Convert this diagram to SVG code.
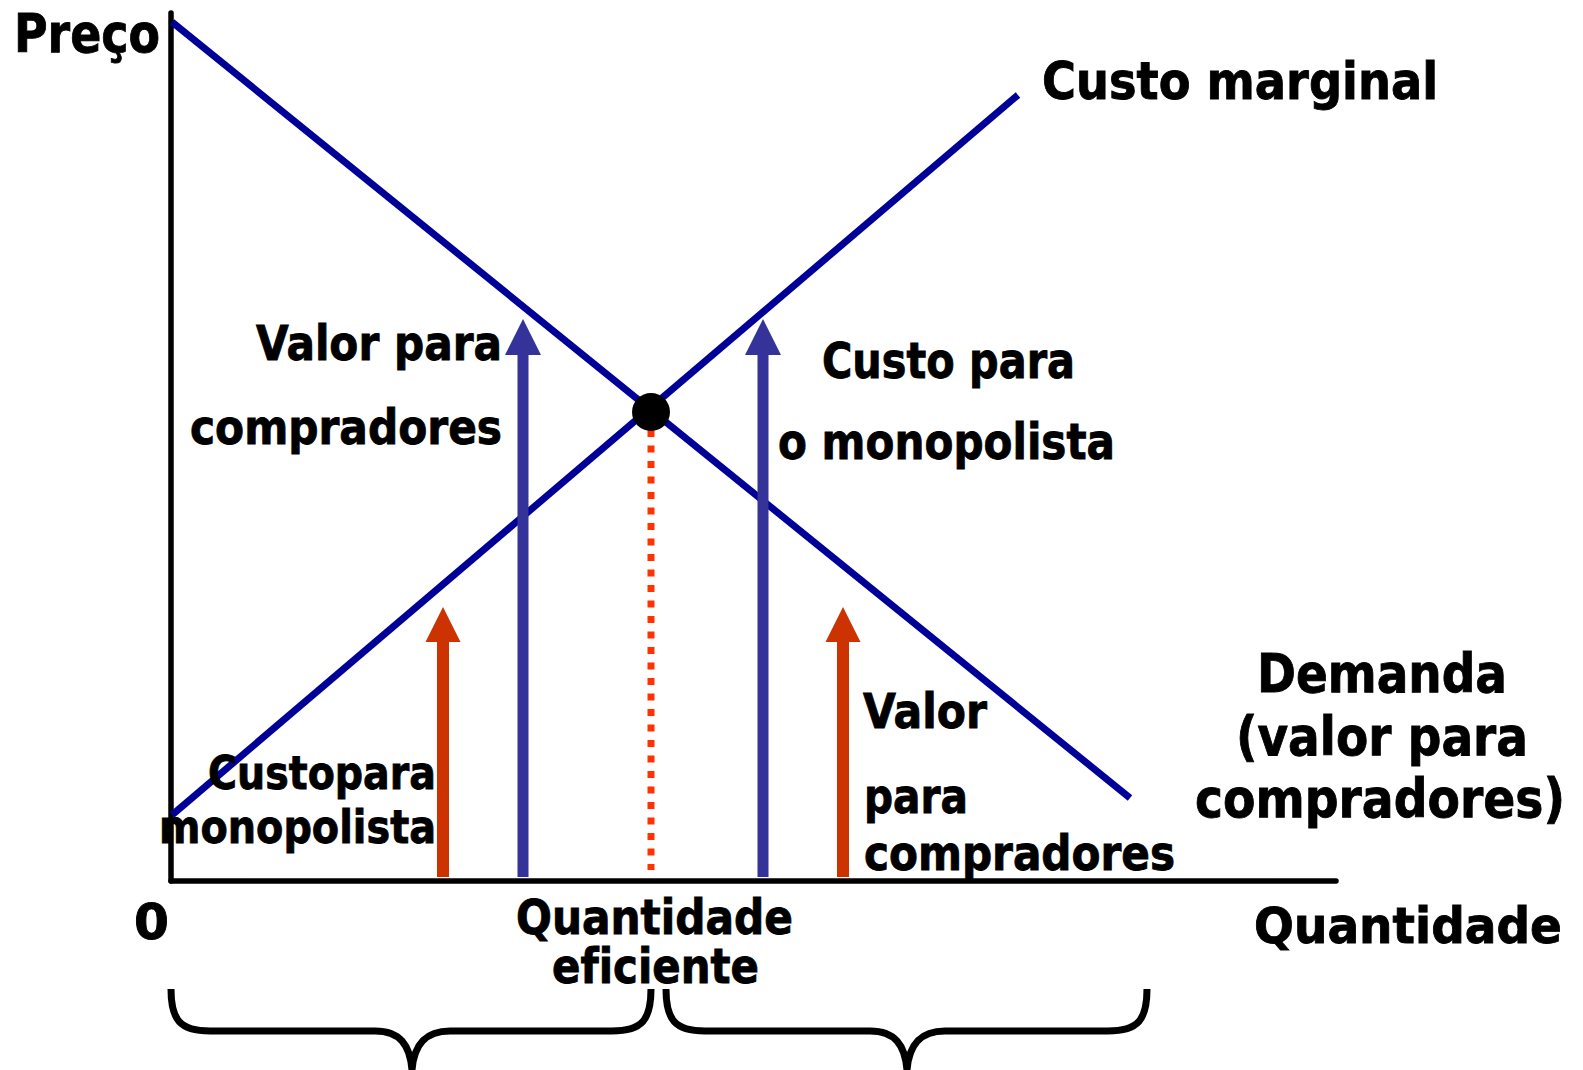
<svg xmlns="http://www.w3.org/2000/svg" width="1583" height="1070" viewBox="0 0 1583 1070">
<style>
text{font-family:"DejaVu Sans","Liberation Sans",sans-serif;font-weight:bold;fill:#000;stroke:#000;stroke-width:0.9;font-variant-ligatures:none}
.axis{stroke:#000;stroke-width:5.5;fill:none;stroke-linecap:round}
.curve{stroke:#000099;stroke-width:7;fill:none}
.brace{stroke:#000;stroke-width:7;fill:none}
.blue{stroke:#333399;stroke-width:11}
.red{stroke:#CC3300;stroke-width:12}
.dot{stroke:#FF3300;stroke-width:7;stroke-dasharray:7 8.5}
</style>
<defs>
<marker id="ah-blue" markerUnits="userSpaceOnUse" markerWidth="36" markerHeight="36" viewBox="0 0 36 36" refX="0" refY="18" orient="auto"><path d="M0,0 L36,18 L0,36 Z" fill="#333399"/></marker>
<marker id="ah-red" markerUnits="userSpaceOnUse" markerWidth="36" markerHeight="36" viewBox="0 0 36 36" refX="0" refY="18" orient="auto"><path d="M0,0.5 L35,18 L0,35.5 Z" fill="#CC3300"/></marker>
</defs>
<g id="axes">
<line class="axis" x1="171" y1="13" x2="171" y2="881"/>
<line class="axis" x1="171" y1="881" x2="1336" y2="881"/>
</g>
<g id="connectors">
<line id="demand" class="curve" x1="172" y1="22" x2="1130" y2="798"/>
<line id="mc" class="curve" x1="172" y1="815" x2="1018" y2="95"/>
<line id="dotted" class="dot" x1="651" y1="430" x2="651" y2="870"/>
<line class="blue" x1="523" y1="877" x2="523" y2="355" marker-end="url(#ah-blue)"/>
<line class="blue" x1="763" y1="877" x2="763" y2="355" marker-end="url(#ah-blue)"/>
<line class="red" x1="443" y1="877" x2="443" y2="642" marker-end="url(#ah-red)"/>
<line class="red" x1="843" y1="877" x2="843" y2="642" marker-end="url(#ah-red)"/>
</g>
<g id="equilibrium"><circle cx="651" cy="412" r="19" fill="#000"/></g>
<g id="braces">
<path class="brace" d="M171,989 C171,1020 180,1031 210,1031 L375,1031 C400,1031 410,1045 412,1070 M651,989 C651,1020 642,1031 612,1031 L450,1031 C425,1031 414,1045 412,1070"/>
<path class="brace" d="M666,989 C666,1020 675,1031 705,1031 L870,1031 C895,1031 905,1045 907,1070 M1147,989 C1147,1020 1138,1031 1108,1031 L945,1031 C920,1031 909,1045 907,1070"/>
</g>
<g id="labels">
<text x="14" y="52" font-size="53" textLength="146" lengthAdjust="spacingAndGlyphs">Preço</text>
<text x="1042" y="99" font-size="52" textLength="396" lengthAdjust="spacingAndGlyphs">Custo marginal</text>
<text x="256" y="360" font-size="48" textLength="246" lengthAdjust="spacingAndGlyphs">Valor para</text>
<text x="190" y="444" font-size="48" textLength="312" lengthAdjust="spacingAndGlyphs">compradores</text>
<text x="822" y="378" font-size="49" textLength="253" lengthAdjust="spacingAndGlyphs">Custo para</text>
<text x="778" y="459" font-size="49" textLength="337" lengthAdjust="spacingAndGlyphs">o monopolista</text>
<text x="208" y="789" font-size="46" textLength="228" lengthAdjust="spacingAndGlyphs">Custopara</text>
<text x="159" y="843" font-size="46" textLength="277" lengthAdjust="spacingAndGlyphs">monopolista</text>
<text x="863" y="728" font-size="48" textLength="124" lengthAdjust="spacingAndGlyphs">Valor</text>
<text x="864" y="813" font-size="48" textLength="104" lengthAdjust="spacingAndGlyphs">para</text>
<text x="864" y="870" font-size="48" textLength="311" lengthAdjust="spacingAndGlyphs">compradores</text>
<text x="1257" y="692" font-size="54" textLength="250" lengthAdjust="spacingAndGlyphs">Demanda</text>
<text x="1236" y="755" font-size="54" textLength="292" lengthAdjust="spacingAndGlyphs">(valor para</text>
<text x="1195" y="817" font-size="54" textLength="370" lengthAdjust="spacingAndGlyphs">compradores)</text>
<text x="134" y="939" font-size="49" textLength="35" lengthAdjust="spacingAndGlyphs">0</text>
<text x="516" y="934" font-size="48" textLength="277" lengthAdjust="spacingAndGlyphs">Quantidade</text>
<text x="552" y="983" font-size="48" textLength="207" lengthAdjust="spacingAndGlyphs">eficiente</text>
<text x="1254" y="943" font-size="50" textLength="308" lengthAdjust="spacingAndGlyphs">Quantidade</text>
</g>
</svg>
